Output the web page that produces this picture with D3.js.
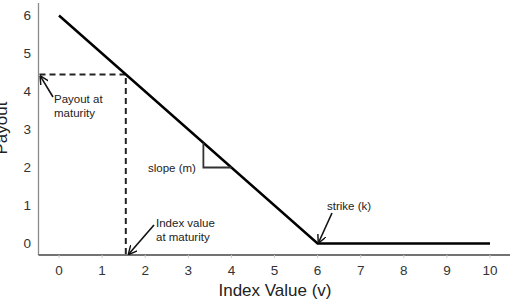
<!DOCTYPE html>
<html>
<head>
<meta charset="utf-8">
<script src="https://cdn.jsdelivr.net/npm/d3@7"></script>
<style>
  body { margin: 0; background: #fff; }
  svg { display: block; font-family: "Liberation Sans", Arial, sans-serif; }
</style>
</head>
<body>
<div id="chart"></div>
<script>
// payoff data
var payoffX = [0, 6, 10];
var payoffY = [6, 0, 0];
var xTicks = [0, 1, 2, 3, 4, 5, 6, 7, 8, 9, 10];
var yTicks = [0, 1, 2, 3, 4, 5, 6];
var maturityIndex = 1.55;
var maturityPayout = 4.45;
var slopeX = [3.35, 4];     // triangle corner and end on the line
var slopeY = 2;
var strikeX = 6;

var width = 510, height = 304;
var svg = d3.select("#chart").append("svg")
    .attr("width", width)
    .attr("height", height);

var x = d3.scaleLinear().domain([0, 10]).range([59, 490]);
var y = d3.scaleLinear().domain([0, 6]).range([243.5, 15.5]);

var axisLeftX = 38.5, axisBottomY = 255;

// arrow marker
svg.append("defs").append("marker")
    .attr("id", "arrow")
    .attr("viewBox", "0 0 10 10")
    .attr("refX", 9).attr("refY", 5)
    .attr("markerWidth", 9).attr("markerHeight", 9)
    .attr("markerUnits", "userSpaceOnUse")
    .attr("orient", "auto")
  .append("path")
    .attr("d", "M0,0 L10,5 L0,10")
    .attr("fill", "none")
    .attr("stroke", "#111")
    .attr("stroke-width", 1.6);

// axes lines
svg.append("line")
    .attr("x1", axisLeftX).attr("x2", axisLeftX)
    .attr("y1", 3).attr("y2", axisBottomY)
    .attr("stroke", "#8a8a8a").attr("stroke-width", 1.3);
svg.append("line")
    .attr("x1", axisLeftX).attr("x2", width)
    .attr("y1", axisBottomY).attr("y2", axisBottomY)
    .attr("stroke", "#444").attr("stroke-width", 1.3);

// x tick marks + labels
svg.selectAll(".xtick").data(xTicks).join("line")
    .attr("class", "xtick")
    .attr("x1", d => x(d)).attr("x2", d => x(d))
    .attr("y1", axisBottomY).attr("y2", axisBottomY + 3)
    .attr("stroke", "#ccc");
svg.selectAll(".xlab").data(xTicks).join("text")
    .attr("class", "xlab")
    .attr("x", d => x(d)).attr("y", 275)
    .attr("text-anchor", "middle")
    .attr("font-size", 13.5).attr("fill", "#333")
    .text(d => d);
svg.selectAll(".ylab").data(yTicks).join("text")
    .attr("class", "ylab")
    .attr("x", 31).attr("y", d => y(d) + 4.5)
    .attr("text-anchor", "end")
    .attr("font-size", 13.5).attr("fill", "#333")
    .text(d => d);

// axis titles
svg.append("text")
    .attr("x", 275).attr("y", 296)
    .attr("text-anchor", "middle")
    .attr("font-size", 17).attr("fill", "#222")
    .text("Index Value (v)");
svg.append("text")
    .attr("transform", "translate(7,128) rotate(-90)")
    .attr("text-anchor", "middle")
    .attr("font-size", 17).attr("fill", "#222")
    .text("Payout");

// dashed maturity guides
svg.append("path")
    .attr("d", d3.line()([
      [axisLeftX + 1, y(maturityPayout)],
      [x(maturityIndex), y(maturityPayout)],
      [x(maturityIndex), axisBottomY]
    ]))
    .attr("fill", "none")
    .attr("stroke", "#222").attr("stroke-width", 2)
    .attr("stroke-dasharray", "6,4");

// payoff line
svg.append("path")
    .datum(payoffX.map((d, i) => [d, payoffY[i]]))
    .attr("d", d3.line().x(d => x(d[0])).y(d => y(d[1])))
    .attr("fill", "none")
    .attr("stroke", "#000").attr("stroke-width", 2.5);

// slope triangle
svg.append("path")
    .attr("d", d3.line()([
      [x(slopeX[0]), y(6 - slopeX[0])],
      [x(slopeX[0]), y(slopeY)],
      [x(slopeX[1]), y(slopeY)]
    ]))
    .attr("fill", "none")
    .attr("stroke", "#333").attr("stroke-width", 1.8);

// annotations
function note(lines, tx, ty) {
  var t = svg.append("text")
      .attr("font-size", 11.5).attr("fill", "#222");
  lines.forEach((l, i) => {
    t.append("tspan").attr("x", tx).attr("y", ty + i * 14).text(l);
  });
}
function arrow(x1, y1, x2, y2) {
  svg.append("line")
      .attr("x1", x1).attr("y1", y1).attr("x2", x2).attr("y2", y2)
      .attr("stroke", "#111").attr("stroke-width", 1.6)
      .attr("marker-end", "url(#arrow)");
}

note(["Payout at", "maturity"], 54, 103);
arrow(53, 97, axisLeftX + 2, y(maturityPayout) + 2);

note(["slope (m)"], 148, 172);

note(["Index value", "at maturity"], 156, 227);
arrow(154, 225, x(maturityIndex) + 3, axisBottomY - 1);

note(["strike (k)"], 327, 210);
arrow(332, 213, x(strikeX) + 1, y(0) - 1);
</script>
</body>
</html>
